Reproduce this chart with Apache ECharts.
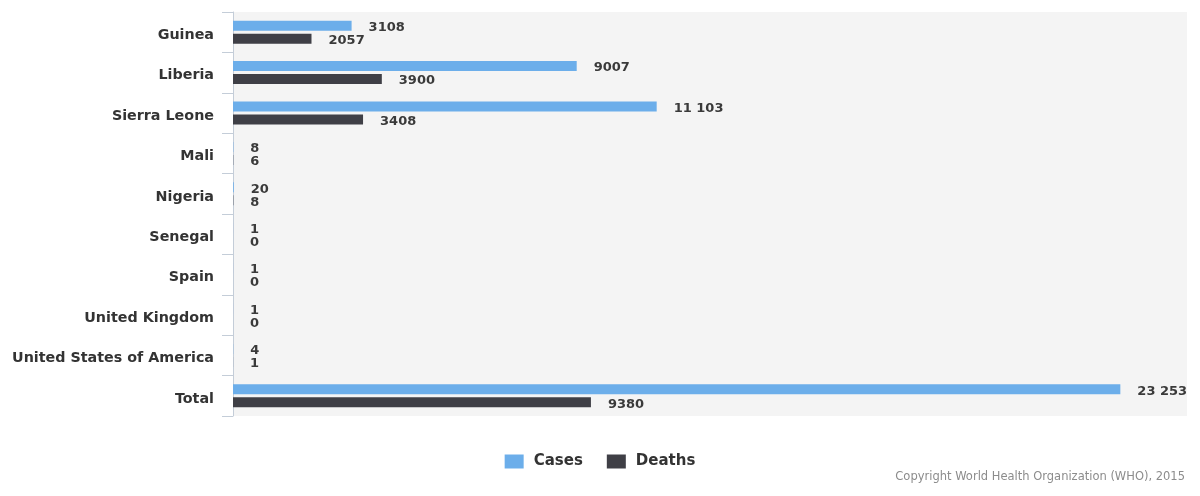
<!DOCTYPE html>
<html>
<head>
<meta charset="utf-8">
<script src="https://cdn.jsdelivr.net/npm/echarts@6/dist/echarts.min.js"></script>
<style>
	html, body { margin: 0; padding: 0; background: #fff; }
	#ebolaChart { width: 1200px; height: 496px; }
</style>
</head>
<body>
<div id="ebolaChart"></div>
<script>
// 国家 / 数据
const countries = ['Guinea', 'Liberia', 'Sierra Leone', 'Mali', 'Nigeria', 'Senegal', 'Spain', 'United Kingdom', 'United States of America', 'Total']
const casesData = [3108, 9007, 11103, 8, 20, 1, 1, 1, 4, 23253]
const deathsData = [2057, 3900, 3408, 6, 8, 0, 0, 0, 1, 9380]

const font = 'DejaVu Sans'

// 10000 以上用空格分隔千位
const fmtNum = (v) => {
	if (v >= 10000) return String(v).replace(/\B(?=(\d{3})+(?!\d))/g, ' ')
	return String(v)
}

const labelOption = {
	show: true,
	position: 'right',
	distance: 17,
	offset: [0, 2],
	color: '#3a3a3a',
	fontFamily: font,
	fontWeight: 'bold',
	fontSize: 13,
	formatter: (p) => fmtNum(p.value),
}

var myChart = echarts.init(document.getElementById('ebolaChart'))
var option = {
	animation: false,
	grid: {
		left: 233,
		right: 13,
		top: 12,
		bottom: 80,
		show: true,
		backgroundColor: '#f4f4f4',
		borderWidth: 0,
	},
	legend: {
		bottom: 22,
		left: 'center',
		itemWidth: 19,
		itemHeight: 14,
		itemGap: 24,
		icon: 'rect',
		textStyle: { fontFamily: font, fontWeight: 'bold', fontSize: 15, color: '#333', padding: [0, 0, 0, 5] },
		data: ['Cases', 'Deaths'],
	},
	xAxis: {
		type: 'value',
		min: 0,
		max: 25000,
		axisLine: { show: false },
		axisTick: { show: false },
		axisLabel: { show: false },
		splitLine: { show: false },
	},
	yAxis: {
		type: 'category',
		inverse: true,
		data: countries,
		axisLine: { show: true, lineStyle: { color: '#c4cdd8', width: 1 } },
		axisTick: { show: true, length: 11, lineStyle: { color: '#c4cdd8' } },
		axisLabel: {
			margin: 19,
			formatter: (v) => '{n|' + v + '}',
			rich: {
				n: { padding: [6, 0, 0, 0], fontFamily: font, fontWeight: 'bold', fontSize: 14.3, color: '#333' },
			},
		},
	},
	series: [
		{
			name: 'Cases',
			type: 'bar',
			barWidth: 10,
			barGap: '30%',
			itemStyle: { color: '#6caeea' },
			label: labelOption,
			data: casesData,
		},
		{
			name: 'Deaths',
			type: 'bar',
			barWidth: 10,
			barGap: '30%',
			itemStyle: { color: '#3f3f46' },
			label: labelOption,
			data: deathsData,
		},
	],
	graphic: [
		{
			type: 'text',
			right: 15,
			top: 471,
			style: {
				text: 'Copyright World Health Organization (WHO), 2015',
				fill: '#8c8c8c',
				font: '11.5px "DejaVu Sans"',
			},
		},
	],
}

option && myChart.setOption(option)
</script>
</body>
</html>
